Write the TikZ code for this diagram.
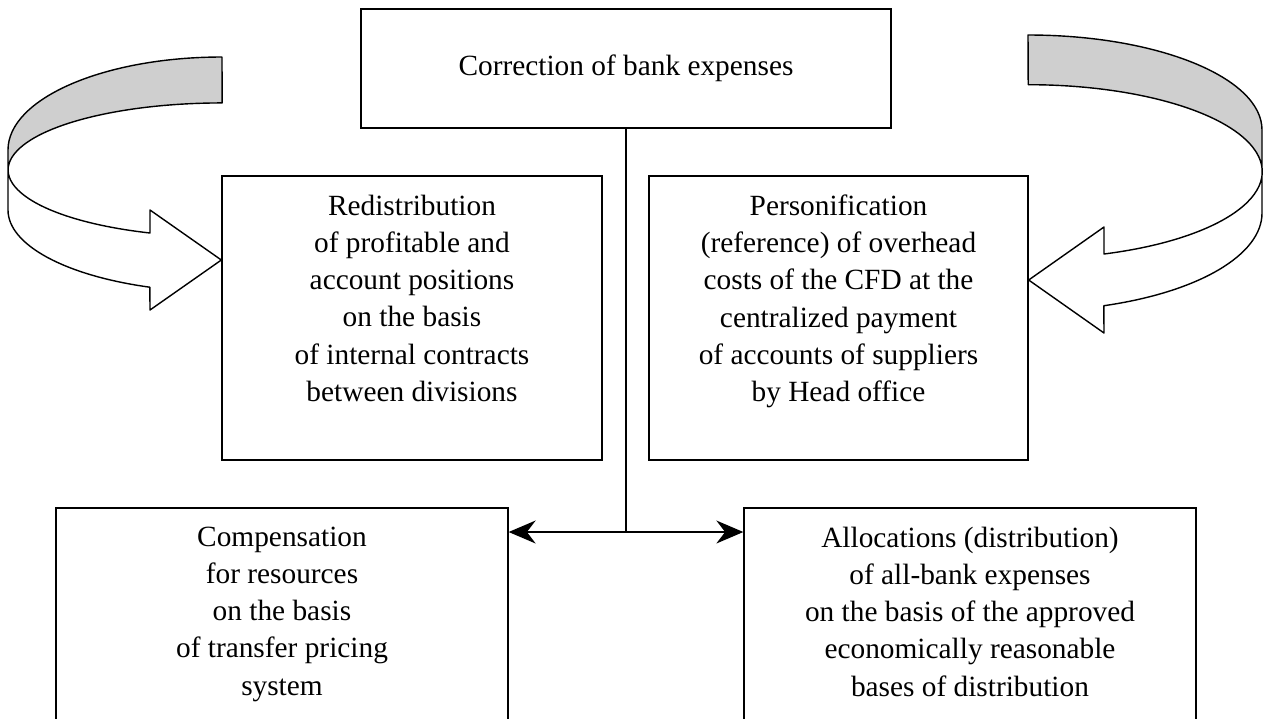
\documentclass[tikz,border=0pt]{standalone}
\usepackage{fontspec}
\setmainfont{Liberation Serif}
\usetikzlibrary{arrows.meta,positioning}
\definecolor{bandgray}{RGB}{207,207,207}
\tikzset
{
    cbox/.style    = {rectangle, draw=black, line width=0.8pt, inner sep=0pt, align=center},
    boxtext/.style = {align=center, inner sep=0pt, font=\fontsize{16.7}{21.2}\selectfont},
    arrow/.style   = {line width=0.9pt, -{Stealth[length=0.54cm, width=0.46cm]}},
    band/.style    = {draw=black, line width=0.8pt, line join=round}
}

\begin{document}
\begin{tikzpicture}[x=0.02cm, y=0.02cm]

	 \useasboundingbox (0,0) rectangle (1263,-718);
	 \clip (0,0) rectangle (1263,-718);

	 \node (corr)   [cbox, boxtext, minimum width=10.6cm, minimum height=2.38cm] at (626,-68.5)  {Correction of bank expenses};
	 \node (redist) [cbox, minimum width=7.6cm,  minimum height=5.68cm]          at (412,-318)   {};
	 \node (person) [cbox, minimum width=7.58cm, minimum height=5.68cm]          at (838.5,-318) {};
	 \node (comp)   [cbox, minimum width=9.04cm, minimum height=5.04cm]          at (282,-634)   {};
	 \node (alloc)  [cbox, minimum width=9.04cm, minimum height=5.04cm]          at (970,-634)   {};

	 \node (redisttxt) [boxtext, below=0.38cm of redist.north] {Redistribution\\ of profitable and\\ account positions\\ on the basis\\ of internal contracts\\ between divisions};
	 \node (persontxt) [boxtext, below=0.38cm of person.north] {Personification\\ (reference) of overhead\\ costs of the CFD at the\\ centralized payment\\ of accounts of suppliers\\ by Head office};
	 \node (comptxt)   [boxtext, below=0.38cm of comp.north]   {Compensation\\ for resources\\ on the basis\\ of transfer pricing\\ system};
	 \node (alloctxt)  [boxtext, below=0.38cm of alloc.north]  {Allocations (distribution)\\ of all-bank expenses\\ on the basis of the approved\\ economically reasonable\\ bases of distribution};

	 \coordinate (hub) at (626,-532);
	 \draw[line width=0.9pt] (corr.south) -- (hub);
	 \draw[arrow] (hub) -- (hub -| comp.east);
	 \draw[arrow] (hub) -- (hub -| alloc.west);

	 % left curved arrow
	 \fill[bandgray] (222,-57) arc[start angle=90, end angle=180, x radius=214, y radius=93]
	    -- (8,-170) arc[start angle=180, end angle=90, x radius=214, y radius=67] -- cycle;
	 \draw[band] (222,-57) arc[start angle=90, end angle=180, x radius=214, y radius=93]
	    -- (8,-210) arc[start angle=180, end angle=250.3, x radius=214, y radius=82]
	    -- (150,-310) -- (redist.west |- 0,-260) -- (150,-210) -- (150,-233)
	    arc[start angle=250.3, end angle=90, x radius=214, y radius=67] -- cycle;

	 % right curved arrow
	 \fill[bandgray] (1028,-35) arc[start angle=90, end angle=0, x radius=234, y radius=95]
	    -- (1262,-172) arc[start angle=0, end angle=90, x radius=234, y radius=87] -- cycle;
	 \draw[band] (1028,-35) arc[start angle=90, end angle=0, x radius=234, y radius=95]
	    -- (1262,-213) arc[start angle=0, end angle=-71.1, x radius=234, y radius=98]
	    -- (1104,-333) -- (person.east |- 0,-280) -- (1104,-227) -- (1104,-254)
	    arc[start angle=-71.1, end angle=90, x radius=234, y radius=87] -- cycle;

\end{tikzpicture}
\end{document}
